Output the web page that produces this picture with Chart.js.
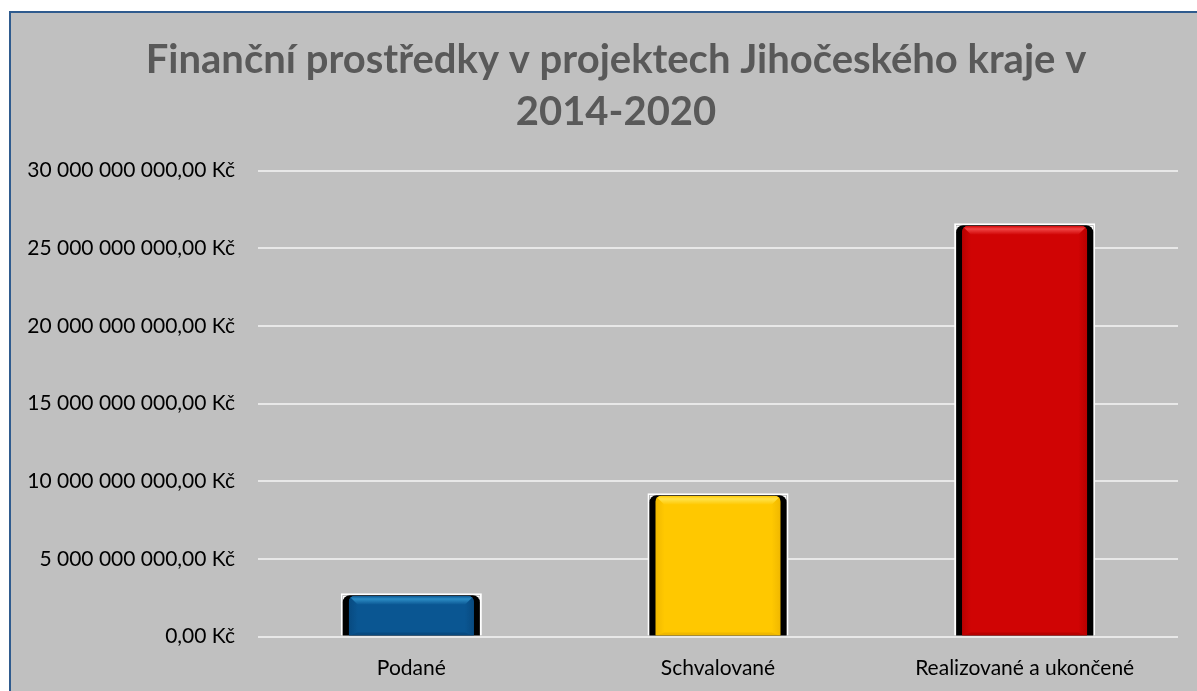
<!DOCTYPE html>
<html>
<head>
<meta charset="utf-8">
<script src="https://cdn.jsdelivr.net/npm/chart.js@4"></script>
<style>
  html, body { margin: 0; padding: 0; background: #fff; overflow: hidden; }
  #box {
    position: absolute; left: 9px; top: 11px;
    border-left: 2px solid #2f5b8e; border-top: 2px solid #2f5b8e;
    background: #c0c0c0; width: 1210px; height: 700px;
  }
  canvas { display: block; }
</style>
</head>
<body>
<div id="box"><canvas id="chart" width="1210" height="678"></canvas></div>
<script>
// values (Kč)
const categories = ['Podané', 'Schvalované', 'Realizované a ukončené'];
const amounts = [2780000000, 9220000000, 26600000000];
const faceColors = ['#0a5692', '#ffc800', '#d00404'];
const topColors = ['#2c8cc4', '#ffe24a', '#f04444'];
const sideColors = ['#084a80', '#f0b800', '#b80000'];

function formatKc(v) {
  const s = Math.round(v).toString().replace(/\B(?=(\d{3})+(?!\d))/g, ' ');
  return s + ',00 Kč';
}

// draws the bevelled face over each bar that Chart.js placed
const bevel = {
  id: 'bevel',
  afterDatasetsDraw(chart) {
    const ctx = chart.ctx;
    chart.getDatasetMeta(0).data.forEach((bar, i) => {
      const p = bar.getProps(['x', 'y', 'base', 'width'], true);
      const l = p.x - p.width / 2 + 2, r = p.x + p.width / 2 - 2;
      const t = p.y + 2, b = p.base;
      ctx.save();
      ctx.fillStyle = '#fff';
      ctx.fillRect(l, t, r - l, b - t);
      ctx.fillStyle = '#000';
      ctx.beginPath();
      ctx.roundRect(l, t, r - l, b - t, [7, 7, 0, 0]);
      ctx.fill();
      const fl = l + 6, fr = r - 6, ft = t + 0.5, fb = b;
      ctx.beginPath();
      ctx.roundRect(fl, ft, fr - fl, fb - ft, [6, 6, 0, 0]);
      ctx.clip();
      ctx.fillStyle = faceColors[i];
      ctx.fillRect(fl, ft, fr - fl, fb - ft);
      const bw = 9;
      // sides
      let g = ctx.createLinearGradient(fl, 0, fl + bw, 0);
      g.addColorStop(0, sideColors[i]); g.addColorStop(1, faceColors[i]);
      ctx.fillStyle = g;
      ctx.beginPath();
      ctx.moveTo(fl, ft); ctx.lineTo(fl + bw, ft + bw); ctx.lineTo(fl + bw, fb - 3); ctx.lineTo(fl, fb);
      ctx.fill();
      g = ctx.createLinearGradient(fr, 0, fr - bw, 0);
      g.addColorStop(0, sideColors[i]); g.addColorStop(1, faceColors[i]);
      ctx.fillStyle = g;
      ctx.beginPath();
      ctx.moveTo(fr, ft); ctx.lineTo(fr - bw, ft + bw); ctx.lineTo(fr - bw, fb - 3); ctx.lineTo(fr, fb);
      ctx.fill();
      // top
      g = ctx.createLinearGradient(0, ft, 0, ft + bw);
      g.addColorStop(0, faceColors[i]); g.addColorStop(0.35, topColors[i]); g.addColorStop(1, faceColors[i]);
      ctx.fillStyle = g;
      ctx.beginPath();
      ctx.moveTo(fl, ft); ctx.lineTo(fr, ft); ctx.lineTo(fr - bw, ft + bw); ctx.lineTo(fl + bw, ft + bw);
      ctx.fill();
      // bottom
      ctx.fillStyle = sideColors[i];
      ctx.beginPath();
      ctx.moveTo(fl, fb); ctx.lineTo(fr, fb); ctx.lineTo(fr - bw, fb - 3); ctx.lineTo(fl + bw, fb - 3);
      ctx.fill();
      ctx.restore();
    });
  }
};

new Chart(document.getElementById('chart'), {
  type: 'bar',
  data: {
    labels: categories,
    datasets: [{
      data: amounts,
      backgroundColor: '#000',
      borderColor: '#fff',
      borderWidth: { top: 2, left: 2, right: 2, bottom: 0 },
      borderSkipped: 'bottom',
      categoryPercentage: 1,
      barPercentage: 0.46
    }]
  },
  options: {
    responsive: false,
    animation: false,
    layout: { padding: 0 },
    scales: {
      x: {
        grid: { display: false, drawTicks: false },
        border: { display: false },
        ticks: { color: '#000', padding: 19, font: { family: 'Lato', size: 21 } },
        afterFit: s => { s.height = 54.5; }
      },
      y: {
        min: 0, max: 30000000000,
        ticks: { stepSize: 5000000000, color: '#000', padding: 23, font: { family: 'Lato', size: 21 }, callback: v => formatKc(v) },
        grid: { color: '#e8e8e8', lineWidth: 2, drawTicks: false },
        border: { display: false },
        afterFit: s => { s.width = 247; }
      },
      // empty right axis keeps the plot's right margin while the title stays centred on the whole chart
      yRight: {
        position: 'right',
        display: true,
        grid: { display: false, drawTicks: false },
        border: { display: false },
        ticks: { display: false },
        afterFit: s => { s.width = 43; }
      }
    },
    plugins: {
      legend: { display: false },
      tooltip: { enabled: false },
      title: {
        display: true,
        text: ['Finanční prostředky v projektech Jihočeského kraje v', '2014-2020'],
        color: '#595959',
        font: { family: 'Lato', size: 40, weight: 'bold', lineHeight: 1.3 },
        padding: { top: 21, bottom: 32.5 }
      }
    }
  },
  plugins: [bevel]
});
</script>
</body>
</html>
